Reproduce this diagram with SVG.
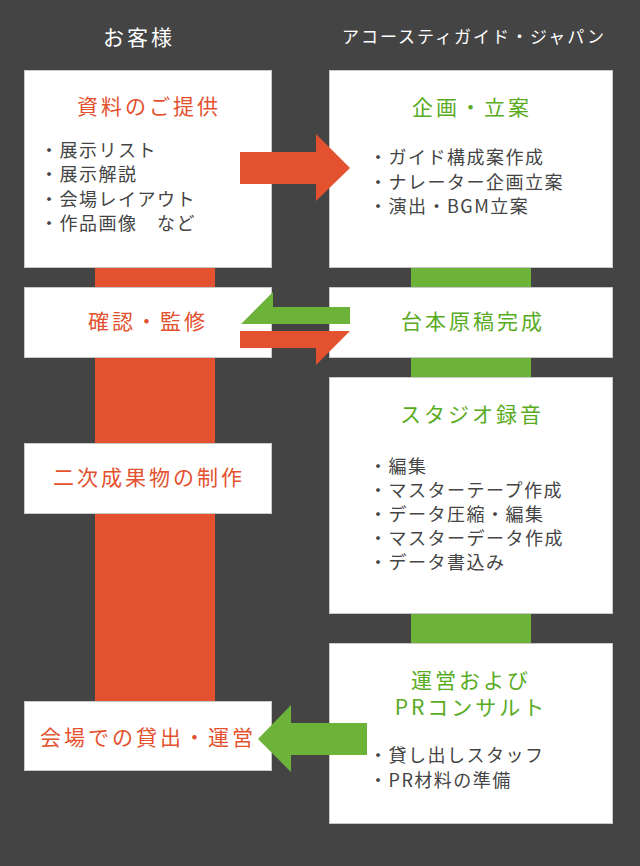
<svg xmlns="http://www.w3.org/2000/svg" width="640" height="866" viewBox="0 0 640 866">
<style>
  text { font-family: "Noto Sans CJK JP", "Noto Sans", sans-serif; }
  .box { fill: #ffffff; stroke: #c8c8c8; stroke-width: 1; }
  .hd { fill: #ffffff; text-anchor: middle; }
  .to { fill: #e4512e; font-size: 21px; letter-spacing: 3px; text-anchor: middle; }
  .tg { fill: #59ab1f; font-size: 21px; letter-spacing: 3px; text-anchor: middle; }
  .li { fill: #444444; font-size: 18px; letter-spacing: 1.5px; }
  .or { fill: #e4512e; }
  .gr { fill: #6db33a; }
</style>
<rect x="0" y="0" width="640" height="866" fill="#444444"/>

<g id="headers">
  <text class="hd" x="139" y="44.5" font-size="21" letter-spacing="3">お客様</text>
  <text class="hd" x="474" y="43" font-size="17" letter-spacing="2">アコースティガイド・ジャパン</text>
</g>

<g id="lanes">
  <rect class="or" x="95" y="268" width="120" height="433"/>
  <rect class="gr" x="411" y="268" width="120" height="375"/>
</g>

<g id="n-shiryou">
  <rect class="box" x="24.5" y="70.5" width="247" height="197"/>
  <text class="to" x="149" y="114">資料のご提供</text>
  <text class="li" x="40" y="157">・展示リスト</text>
  <text class="li" x="40" y="181.3">・展示解説</text>
  <text class="li" x="40" y="205.6">・会場レイアウト</text>
  <text class="li" x="40" y="229.9">・作品画像　など</text>
</g>

<g id="n-kikaku">
  <rect class="box" x="329.5" y="70.5" width="283" height="197"/>
  <text class="tg" x="472" y="115">企画・立案</text>
  <text class="li" x="369" y="164">・ガイド構成案作成</text>
  <text class="li" x="369" y="188.5">・ナレーター企画立案</text>
  <text class="li" x="369" y="213">・演出・BGM立案</text>
</g>

<g id="n-kakunin">
  <rect class="box" x="24.5" y="287.5" width="247" height="70"/>
  <text class="to" x="148" y="329">確認・監修</text>
</g>

<g id="n-daihon">
  <rect class="box" x="329.5" y="287.5" width="283" height="70"/>
  <text class="tg" x="473" y="329">台本原稿完成</text>
</g>

<g id="n-niji">
  <rect class="box" x="24.5" y="443.5" width="247" height="70"/>
  <text class="to" x="149" y="484.5">二次成果物の制作</text>
</g>

<g id="n-studio">
  <rect class="box" x="329.5" y="377.5" width="283" height="236"/>
  <text class="tg" x="472" y="422">スタジオ録音</text>
  <text class="li" x="369" y="473">・編集</text>
  <text class="li" x="369" y="497">・マスターテープ作成</text>
  <text class="li" x="369" y="521">・データ圧縮・編集</text>
  <text class="li" x="369" y="545">・マスターデータ作成</text>
  <text class="li" x="369" y="569">・データ書込み</text>
</g>

<g id="n-kaijou">
  <rect class="box" x="24.5" y="701.5" width="247" height="69"/>
  <text class="to" x="148" y="745">会場での貸出・運営</text>
</g>

<g id="n-unei">
  <rect class="box" x="329.5" y="643.5" width="283" height="180"/>
  <text class="tg" x="471" y="687.5">運営および</text>
  <text class="tg" x="471" y="715">PRコンサルト</text>
  <text class="li" x="369" y="761.5">・貸し出しスタッフ</text>
  <text class="li" x="369" y="786.5">・PR材料の準備</text>
</g>

<g id="connectors">
  <polygon class="or" points="240,152 316,152 316,134 350,168 316,201 316,184 240,184"/>
  <polygon class="gr" points="350,307 273,307 273,292 241,324 350,324"/>
  <polygon class="or" points="240,331 350,331 316,365 316,348 240,348"/>
  <polygon class="gr" points="367,723 291,723 291,705 258,739 291,772 291,755 367,755"/>
</g>
</svg>
